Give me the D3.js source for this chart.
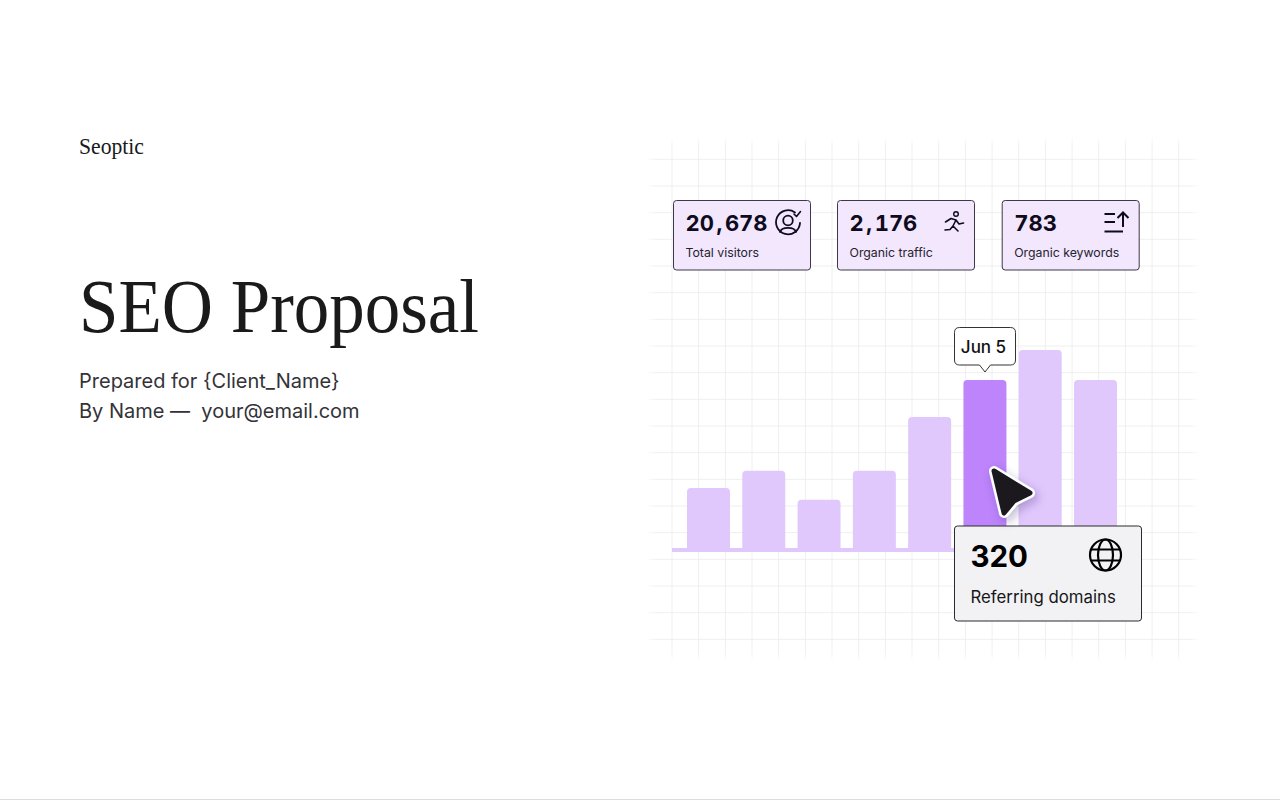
<!DOCTYPE html>
<html><head><meta charset="utf-8">
<script src="https://cdn.jsdelivr.net/npm/d3@7/dist/d3.min.js"></script>
<style>html,body{margin:0;padding:0;background:#fff;overflow:hidden}svg{display:block}</style>
</head><body><svg id="c" width="1280" height="800"></svg>
<script>
const categories = ["May 31","Jun 1","Jun 2","Jun 3","Jun 4","Jun 5","Jun 6","Jun 7"];
const values = [119,151,97,151,251,320,376,320];
const activeCategory = "Jun 5";
const kpiValues = ["20,678","2,176","783"];
const kpiLabels = ["Total visitors","Organic traffic","Organic keywords"];
const detailValue = "320";
const detailLabel = "Referring domains";
const SERIF = "'Liberation Serif',serif", SANS = "Inter,sans-serif";

const svg = d3.select("#c");
const defs = svg.append("defs");

// soft edge fade for the grid
const fadeStops = [[0,0],[.02,1],[.98,1],[1,0]];
const gx = defs.append("linearGradient").attr("id","fx");
fadeStops.forEach(([o,v])=>gx.append("stop").attr("offset",o).attr("stop-color","#fff").attr("stop-opacity",v));
const gy = defs.append("linearGradient").attr("id","fy").attr("x2",0).attr("y2",1);
fadeStops.forEach(([o,v])=>gy.append("stop").attr("offset",o).attr("stop-color","#fff").attr("stop-opacity",v));
const m = defs.append("mask").attr("id","gm").attr("maskUnits","userSpaceOnUse").attr("x",640).attr("y",130).attr("width",570).attr("height",540);
m.append("rect").attr("x",646).attr("y",136).attr("width",554).attr("height",526).attr("fill","url(#fx)");
const m2 = defs.append("mask").attr("id","gm2").attr("maskUnits","userSpaceOnUse").attr("x",640).attr("y",130).attr("width",570).attr("height",540);
m2.append("rect").attr("x",646).attr("y",136).attr("width",554).attr("height",526).attr("fill","url(#fy)");
const sh = defs.append("filter").attr("id","sh").attr("x","-50%").attr("y","-50%").attr("width","200%").attr("height","200%");
sh.append("feDropShadow").attr("dx",3).attr("dy",4).attr("stdDeviation",5).attr("flood-color","#3a2070").attr("flood-opacity",.3);

// grid
const gridStep = 26.67;
const gridV = svg.append("g").attr("mask","url(#gm2)").attr("stroke","#efeff0").attr("stroke-width",1);
const gridH = svg.append("g").attr("mask","url(#gm)").attr("stroke","#efeff0").attr("stroke-width",1);
d3.range(0,20).forEach(i=>{
  const x = 672 + i*gridStep;
  if(x<1195) gridV.append("line").attr("x1",x).attr("x2",x).attr("y1",136).attr("y2",662);
  const y = 159.3 + i*gridStep;
  if(y<650) gridH.append("line").attr("x1",646).attr("x2",1200).attr("y1",y).attr("y2",y);
});

// left text
const T = (x,y,s,size,fam,col,w)=>svg.append("text").attr("x",x).attr("y",y).text(s)
  .attr("font-size",size).attr("font-family",fam).attr("fill",col).attr("font-weight",w||400);
T(79,153.5,"Seoptic",24,SERIF,"#1a1a1a").attr("textLength",65).attr("lengthAdjust","spacingAndGlyphs");
T(79,332,"SEO Proposal",76,SERIF,"#1a1a1a").attr("textLength",400).attr("lengthAdjust","spacingAndGlyphs");
T(79,388,"Prepared for {Client_Name}",20,SANS,"#333338");
T(79,418,"By Name —  your@email.com",20,SANS,"#333338").style("white-space","pre");

// bars
const x = d3.scaleBand().domain(categories).range([687,1117]).paddingInner(0.2224).paddingOuter(0);
const y = d3.scaleLinear().domain([0,320]).range([552,380]);
svg.append("rect").attr("x",672).attr("y",y(0)-4).attr("width",285).attr("height",4).attr("fill","#e0c8fd");
svg.append("g").selectAll("path").data(categories).join("path")
  .attr("d",(c,i)=>{
    const l=x(c),r=l+x.bandwidth(),t=y(values[i]),b=y(0),q=4;
    return `M${l},${b}V${t+q}Q${l},${t} ${l+q},${t}H${r-q}Q${r},${t} ${r},${t+q}V${b}Z`;
  })
  .attr("fill",c=>c===activeCategory?"#bd84fb":"#e0c8fd");

// KPI cards
const cardX = [673,837,1001.7];
cardX.forEach((cx,i)=>{
  svg.append("rect").attr("x",cx+.5).attr("y",200.5).attr("width",137).attr("height",69.5).attr("rx",3)
    .attr("fill","#f2e7fd").attr("stroke","#3c3848").attr("stroke-width",1);
  const parts = kpiValues[i].split(",");
  const t = T(cx+12.5,230.5,"",22,SANS,"#0e0b1c",700).style("font-variant-numeric","tabular-nums");
  t.append("tspan").text(parts[0]);
  if(parts.length>1){
    t.append("tspan").attr("dx",2.5).text(",");
    t.append("tspan").attr("dx",2.5).text(parts[1]);
  }
  T(cx+12.5,257,kpiLabels[i],12.3,SANS,"#26232e",400);
});
const ink = {fill:"none",stroke:"#0e0b1c","stroke-width":1.8,"stroke-linecap":"round","stroke-linejoin":"round"};
const P = (d,o)=>{const p=svg.append("path").attr("d",d);Object.entries(Object.assign({},ink,o||{})).forEach(([k,v])=>p.attr(k,v));return p;};
// visitors icon
P("M795,212.5A12,12 0 1 0 800,223");
svg.append("circle").attr("cx",788).attr("cy",220.5).attr("r",4.8).attr("fill","none").attr("stroke","#0e0b1c").attr("stroke-width",1.8);
P("M780,232C781.5,226.5 794.5,226.5 796,232");
P("M794,214L796.5,216.5L800.5,211.5",{"stroke-width":1.6});
// running icon
svg.append("circle").attr("cx",956).attr("cy",214).attr("r",2.3).attr("fill","none").attr("stroke","#0e0b1c").attr("stroke-width",1.4);
P("M945.5,222L951,218.5L956,220L953,226L958,231M953,226L950,229.5L945,230M956,220L959,224L963.5,223",{"stroke-width":1.6});
// keywords icon
P("M1104.5,214H1115M1104.5,222H1115M1104.5,231.5H1123",{"stroke-width":2,"stroke-linecap":"butt"});
P("M1123,227V212.5M1117.5,218L1123,212.5L1128.5,218",{"stroke-width":2,"stroke-linecap":"butt","stroke-linejoin":"miter"});

// tooltip
svg.append("path").attr("d","M959.5,327.5H1010.5Q1015.5,327.5 1015.5,332.5V360Q1015.5,365 1010.5,365H990.5L985,372L979.5,365H959.5Q954.5,365 954.5,360V332.5Q954.5,327.5 959.5,327.5Z")
  .attr("fill","#fff").attr("stroke","#333").attr("stroke-width",1);
T(983.5,352.5,activeCategory,17,SANS,"#111",500).attr("text-anchor","middle");

// detail card
svg.append("rect").attr("x",954.5).attr("y",526).attr("width",187).attr("height",95).attr("rx",3)
  .attr("fill","#f2f2f4").attr("stroke","#2a2a2e").attr("stroke-width",1);
T(970.5,566.5,detailValue,29.5,SANS,"#000",700);
T(970.5,602.5,detailLabel,16.8,SANS,"#16161a",400);
const globe = {stroke:"#000","stroke-width":2.2};
svg.append("circle").attr("cx",1105.5).attr("cy",555).attr("r",15.5).attr("fill","none").attr("stroke","#000").attr("stroke-width",2.2);
svg.append("ellipse").attr("cx",1105.5).attr("cy",555).attr("rx",7.5).attr("ry",15.5).attr("fill","none").attr("stroke","#000").attr("stroke-width",2.2);
P("M1092,549.5H1119M1092,560.5H1119",globe);

// cursor
const cursor = "M994,471L1030,493L1014,501L1004,513Z";
svg.append("path").attr("d",cursor).attr("fill","#fff").attr("stroke","#fff").attr("stroke-width",10).attr("stroke-linejoin","round").attr("filter","url(#sh)");
svg.append("path").attr("d",cursor).attr("fill","#1b191e").attr("stroke","#1b191e").attr("stroke-width",5).attr("stroke-linejoin","round");

// bottom rule
svg.append("rect").attr("x",0).attr("y",799).attr("width",1280).attr("height",1).attr("fill","#dcdcdc");
</script></body></html>
